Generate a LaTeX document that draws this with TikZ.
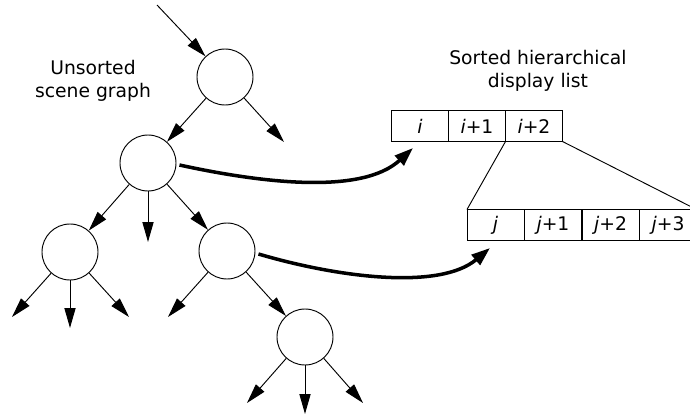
\documentclass[tikz,border=0pt]{standalone}
\usepackage{fontspec}
\setmainfont{DejaVu Sans}
\usetikzlibrary{arrows.meta}
\tikzset{
  graph node/.style={draw=black, circle, line width=0.8pt, minimum size=1.68cm, inner sep=0pt},
  link/.style={line width=0.8pt, arrows={-Triangle[length=17pt, width=9.5pt]}},
  sort link/.style={line width=3pt, arrows={-Triangle[length=16pt, width=11pt]}},
  cell/.style={draw=black, line width=0.8pt, minimum width=1.71cm, minimum height=0.93cm, inner sep=0pt, outer sep=0pt, font=\fontsize{16}{19.6}\selectfont},
  split/.style={line width=0.8pt},
  title/.style={align=center, font=\fontsize{16}{19.6}\selectfont}
}
\begin{document}
\begin{tikzpicture}[x=0.03cm, y=-0.03cm]
  \useasboundingbox (0,0) rectangle (690,418);

  \node[title] at (93,81) (unsorted) {Unsorted\\scene graph};
  \node[title] at (538,71) (sorted) {Sorted hierarchical\\display list};

  \node[graph node] at (225,77) (node1) {};
  \node[graph node] at (148,163) (node2) {};
  \node[graph node] at (70,252) (node3) {};
  \node[graph node] at (227,251) (node4) {};
  \node[graph node] at (305,337) (node5) {};

  \coordinate (in) at (157,5);
  \coordinate (node1 out) at (284,142);
  \coordinate (node2 out) at (148,242);
  \coordinate (node3 out a) at (12,317);
  \coordinate (node3 out b) at (70,328);
  \coordinate (node3 out c) at (129,317);
  \coordinate (node4 out) at (168,317);
  \coordinate (node5 out a) at (247,403);
  \coordinate (node5 out b) at (305,414);
  \coordinate (node5 out c) at (363,403);

  \draw[link] (in) -- (node1);
  \draw[link] (node1) -- (node2);
  \draw[link] (node1) -- (node1 out);
  \draw[link] (node2) -- (node3);
  \draw[link] (node2) -- (node2 out);
  \draw[link] (node2) -- (node4);
  \draw[link] (node3) -- (node3 out a);
  \draw[link] (node3) -- (node3 out b);
  \draw[link] (node3) -- (node3 out c);
  \draw[link] (node4) -- (node4 out);
  \draw[link] (node4) -- (node5);
  \draw[link] (node5) -- (node5 out a);
  \draw[link] (node5) -- (node5 out b);
  \draw[link] (node5) -- (node5 out c);

  % display lists
  \node[cell] at (420,126) (cell i) {\itshape i};
  \node[cell] at (477,126) (cell i1) {{\itshape i}+1};
  \node[cell] at (534,126) (cell i2) {{\itshape i}+2};

  \node[cell] at (495.5,225) (cell j) {\itshape j};
  \node[cell] at (553,225) (cell j1) {{\itshape j}+1};
  \node[cell] at (610.5,225) (cell j2) {{\itshape j}+2};
  \node[cell] at (668,225) (cell j3) {{\itshape j}+3};

  \draw[split] (cell i2.south west) -- (cell j.north west);
  \draw[split] (cell i2.south east) -- (cell j3.north east);

  \coordinate (list i) at (413,148);
  \coordinate (list j) at (490,248);
  \draw[sort link] (node2.east) ++(3,2) .. controls (262,183) and (362,195) .. (list i);
  \draw[sort link] (node4.east) ++(3,3) .. controls (340,278) and (440,290) .. (list j);
\end{tikzpicture}
\end{document}
